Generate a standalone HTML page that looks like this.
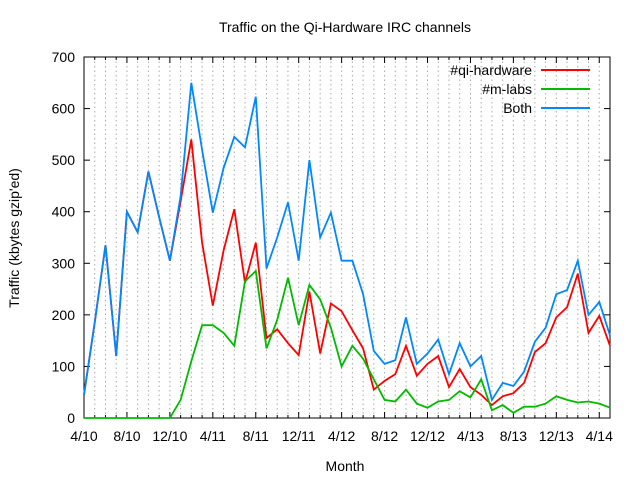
<!DOCTYPE html>
<html><head><style>body{margin:0;background:#fff}svg{display:block}text{font-family:"Liberation Sans",sans-serif;font-size:14px;fill:#000}</style></head>
<body>
<svg id="s" width="640" height="480" xmlns="http://www.w3.org/2000/svg">
<rect width="640" height="480" fill="#fff"/>
<g id="grid"></g>
<g id="axes"></g>
<text x="345" y="32" text-anchor="middle">Traffic on the Qi-Hardware IRC channels</text>
<text x="345" y="471" text-anchor="middle">Month</text>
<text transform="translate(19,238) rotate(-90)" text-anchor="middle">Traffic (kbytes gzip'ed)</text>
<g id="lines"></g>
<text x="532" y="75" text-anchor="end">#qi-hardware</text>
<text x="532" y="94" text-anchor="end">#m-labs</text>
<text x="532" y="113" text-anchor="end">Both</text>
<line x1="541" y1="70" x2="590" y2="70" stroke="#f00" stroke-width="2"/>
<line x1="541" y1="89" x2="590" y2="89" stroke="#0b0" stroke-width="2"/>
<line x1="541" y1="108" x2="590" y2="108" stroke="#08f" stroke-width="2"/>
</svg>
<script>
var X0=84,X1=610,Y0=418,Y1=57,N=50,dx=(X1-X0)/(N-1);
function X(i){return X0+i*dx}function Y(v){return Y0-(Y0-Y1)*v/700}
var blue=[45,185,335,120,400,360,478,390,305,430,650,520,398,485,545,525,623,290,350,418,305,500,350,398,305,305,240,130,105,112,195,105,125,152,85,145,100,120,35,68,62,90,148,175,240,248,305,200,225,160];
var red=[45,185,335,120,400,360,478,390,305,420,540,340,218,325,405,262,340,155,172,145,122,245,125,222,207,170,135,55,72,85,140,82,105,120,60,95,60,45,25,42,48,68,128,145,195,215,280,165,198,140];
var green=[0,0,0,0,0,0,0,0,0,35,110,180,180,165,140,265,285,135,190,272,180,258,230,175,100,140,115,75,35,32,55,28,20,32,35,52,40,75,15,25,10,22,22,28,42,35,30,32,28,20];
var s="";
for(var i=1;i<N-1;i++){s+='<line x1="'+X(i)+'" y1="'+Y1+'" x2="'+X(i)+'" y2="'+Y0+'" stroke="#aaa" stroke-dasharray="1.5,3"/>';}
document.getElementById('grid').innerHTML=s;
s='<rect x="'+X0+'" y="'+Y1+'" width="'+(X1-X0)+'" height="'+(Y0-Y1)+'" fill="none" stroke="#000"/>';
for(var v=0;v<=700;v+=100){var y=Y(v);s+='<line x1="'+X0+'" y1="'+y+'" x2="'+(X0+6)+'" y2="'+y+'" stroke="#000"/><line x1="'+X1+'" y1="'+y+'" x2="'+(X1-6)+'" y2="'+y+'" stroke="#000"/><text x="'+(X0-9)+'" y="'+(y+5)+'" text-anchor="end">'+v+'</text>';}
var lab=["4/10","8/10","12/10","4/11","8/11","12/11","4/12","8/12","12/12","4/13","8/13","12/13","4/14"];
for(var i=0;i<N;i++){var x=X(i),l=(i%4==0)?6:3;s+='<line x1="'+x+'" y1="'+Y0+'" x2="'+x+'" y2="'+(Y0-l)+'" stroke="#000"/><line x1="'+x+'" y1="'+Y1+'" x2="'+x+'" y2="'+(Y1+l)+'" stroke="#000"/>';if(i%4==0)s+='<text x="'+x+'" y="'+(Y0+23)+'" text-anchor="middle">'+lab[i/4]+'</text>';}
document.getElementById('axes').innerHTML=s;
function pl(d,c){var p=d.map(function(v,i){return X(i).toFixed(1)+','+Y(v).toFixed(1)}).join(' ');return '<polyline points="'+p+'" fill="none" stroke="'+c+'" stroke-width="1.8" stroke-linejoin="miter"/>';}
document.getElementById('lines').innerHTML=pl(red,'#f00')+pl(green,'#0b0')+pl(blue,'#08f');
</script>
</body></html>
